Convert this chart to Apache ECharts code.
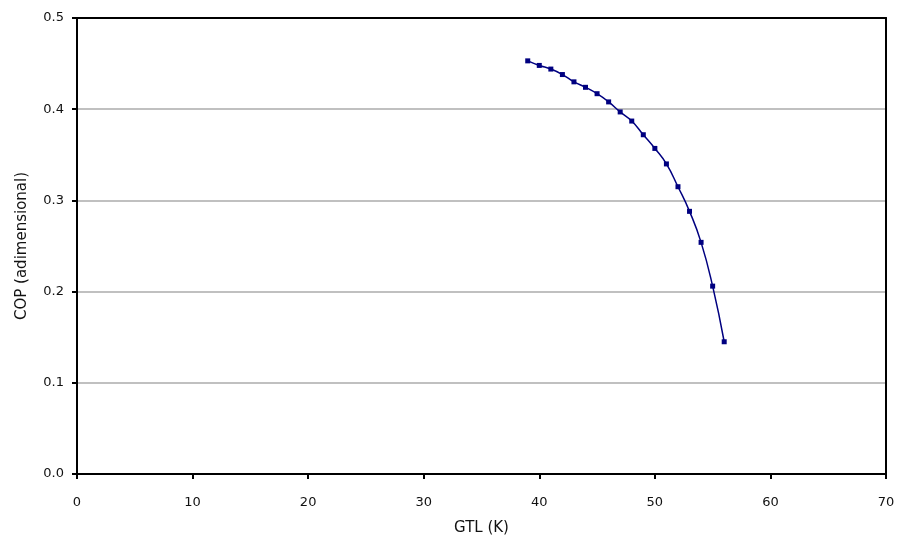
<!DOCTYPE html>
<html><head><meta charset="utf-8">
<script src="https://cdn.jsdelivr.net/npm/echarts@6/dist/echarts.min.js"></script>
<style>html,body{margin:0;padding:0;background:#fff}#c{width:897px;height:540px}</style>
</head><body><div id="c"></div>
<script>
var gtl = [39,40,41,42,43,44,45,46,47,48,49,50,51,52,53,54,55,56];
var cop = [0.453,0.448,0.444,0.438,0.430,0.424,0.417,0.408,0.397,0.387,0.372,0.357,0.340,0.315,0.288,0.254,0.206,0.145];
var xTitle = 'GTL (K)';
var yTitle = 'COP (adimensional)';

var chart = echarts.init(document.getElementById('c'));
var ff = 'DejaVu Sans, Verdana, sans-serif';
var tick = {color:'#111', fontSize:13, fontFamily:ff};
var ttl = {color:'#111', fontSize:15, fontFamily:ff};
var blackLine = {show:true,onZero:false,lineStyle:{color:'#000',width:2}};
chart.setOption({
  animation:false,
  backgroundColor:'#fff',
  grid:{left:77,right:11,top:18,bottom:66,containLabel:false,outerBoundsMode:'none'},
  xAxis:[{type:'value',min:0,max:70,interval:10,
    name:xTitle,nameLocation:'middle',nameGap:47,nameTextStyle:ttl,
    axisLine:blackLine,
    axisTick:{show:true,length:5,lineStyle:{color:'#000',width:2}},
    axisLabel:Object.assign({margin:22,formatter:function(v){return v;}},tick),
    splitLine:{show:false}},
   {type:'value',position:'top',min:0,max:70,interval:10,axisLine:blackLine,axisTick:{show:false},axisLabel:{show:false},splitLine:{show:false}}],
  yAxis:[{type:'value',min:0,max:0.5,interval:0.1,
    name:yTitle,nameLocation:'middle',nameGap:47,nameTextStyle:ttl,
    axisLine:blackLine,
    axisTick:{show:true,length:5,lineStyle:{color:'#000',width:2}},
    axisLabel:Object.assign({margin:13,formatter:function(v){return v.toFixed(1);}},tick),
    splitLine:{show:true,lineStyle:{color:'#c0c0c0',width:2}}},
   {type:'value',position:'right',min:0,max:0.5,interval:0.1,axisLine:blackLine,axisTick:{show:false},axisLabel:{show:false},splitLine:{show:false}}],
  series:[{type:'line',data:gtl.map(function(g,i){return [g,cop[i]];}),
    smooth:true,symbol:'rect',symbolSize:5,z:5,
    lineStyle:{color:'#000080',width:1.5},itemStyle:{color:'#000080'}}]
});
</script></body></html>
